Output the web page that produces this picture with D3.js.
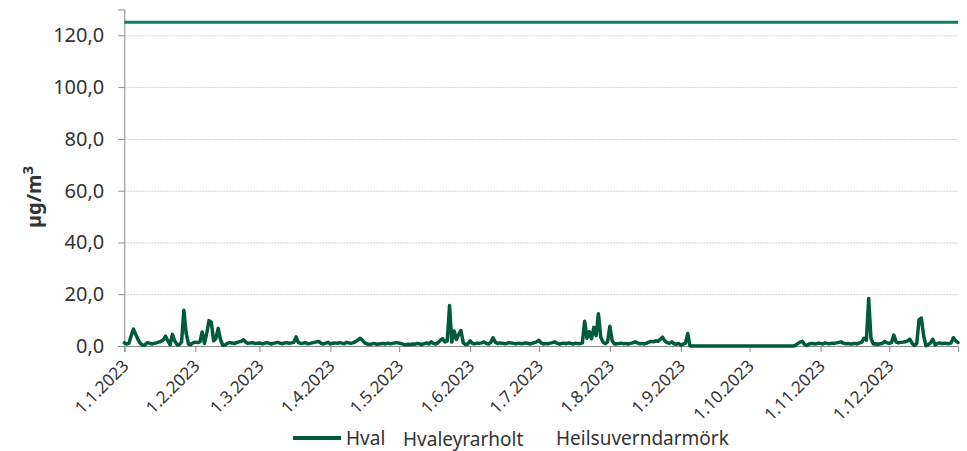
<!DOCTYPE html>
<html>
<head>
<meta charset="utf-8">
<script src="https://cdn.jsdelivr.net/npm/d3@7"></script>
<style>
    body { margin: 0; background: #fff; }
    svg text { font-family: "Noto Sans", "Open Sans", sans-serif; }
</style>
</head>
<body>
<svg id="chart" width="967" height="451"></svg>
<script>
// daily averages, µg/m3, one array per month of 2023
var jan = [1.2, 0.8, 1.0, 4.0, 6.5, 4.5, 2.5, 1.0, 0.3, 0.4, 1.3, 1.1, 0.8, 1.0, 1.2, 1.5, 1.8, 2.3, 3.8, 2.0, 0.5, 4.5, 2.0, 0.5, 0.6, 1.5, 13.8, 5.0, 0.8, 0.6, 1.2];
var feb = [1.5, 1.3, 1.6, 5.4, 1.0, 5.0, 9.8, 9.2, 2.0, 3.0, 6.8, 2.5, 0.3, 0.4, 1.0, 1.3, 1.2, 0.9, 1.3, 1.6, 1.8, 2.4, 1.5, 1.0, 1.2, 1.3, 1.0, 1.1];
var mar = [1.2, 0.9, 1.0, 1.3, 1.1, 0.8, 1.0, 1.2, 1.4, 1.1, 0.9, 1.2, 1.3, 1.0, 1.2, 1.4, 3.5, 1.3, 1.0, 1.1, 1.3, 0.9, 1.0, 1.2, 1.4, 1.6, 1.7, 1.0, 0.8, 1.1, 1.4];
var apr = [0.8, 1.1, 1.2, 1.0, 1.3, 1.1, 0.9, 1.4, 1.2, 1.0, 1.3, 1.7, 2.3, 3.0, 2.2, 1.2, 0.8, 0.7, 0.8, 1.0, 0.7, 0.8, 0.9, 1.0, 0.8, 1.1, 0.9, 1.0, 1.2, 1.3];
var may = [1.1, 0.9, 0.6, 0.5, 0.7, 0.6, 0.8, 0.7, 1.0, 0.8, 0.6, 0.9, 1.2, 0.8, 1.6, 1.0, 0.8, 1.3, 2.2, 2.8, 1.6, 2.0, 15.6, 1.5, 5.8, 2.5, 4.5, 6.0, 1.2, 0.6, 0.8];
var jun = [2.0, 1.0, 0.9, 1.1, 1.0, 1.2, 1.6, 1.0, 0.8, 1.4, 3.2, 1.5, 1.0, 1.2, 1.1, 0.9, 1.0, 1.3, 1.2, 1.0, 0.8, 1.1, 1.0, 0.9, 1.2, 1.1, 0.8, 1.0, 1.3, 1.6];
var jul = [2.2, 1.2, 0.8, 1.0, 0.9, 1.1, 1.3, 1.6, 1.0, 0.8, 1.0, 1.1, 0.9, 1.2, 1.0, 0.8, 1.1, 1.0, 0.9, 1.2, 9.6, 3.0, 5.5, 2.8, 7.2, 4.0, 12.5, 3.5, 1.5, 0.9, 1.5];
var aug = [7.6, 2.0, 0.8, 0.9, 1.0, 1.1, 0.9, 1.0, 0.8, 1.0, 1.2, 1.6, 1.2, 0.9, 1.0, 0.8, 1.1, 1.5, 1.8, 1.6, 2.0, 1.8, 2.6, 3.4, 2.0, 1.3, 1.0, 1.6, 0.9, 0.7, 1.0];
var sep = [0.3, 0.8, 1.0, 4.8, 0, 0, 0, 0, 0, 0, 0, 0, 0, 0, 0, 0, 0, 0, 0, 0, 0, 0, 0, 0, 0, 0, 0, 0, 0, 0];
var oct = [0, 0, 0, 0, 0, 0, 0, 0, 0, 0, 0, 0, 0, 0, 0, 0, 0, 0, 0, 0, 0.2, 0.9, 1.5, 1.8, 0.6, 0.2, 0.8, 1.0, 0.9, 0.8, 1.1];
var nov = [1.0, 0.8, 1.2, 1.0, 0.9, 1.1, 1.0, 1.2, 1.4, 1.6, 1.1, 0.9, 1.0, 0.8, 0.9, 1.0, 0.8, 1.2, 1.5, 3.0, 2.2, 18.3, 3.0, 0.8, 0.9, 0.7, 0.9, 1.0, 1.8, 1.2];
var dec = [1.0, 1.4, 4.2, 1.5, 1.2, 1.4, 1.5, 1.6, 2.0, 2.6, 1.0, 0.2, 1.0, 10.2, 10.8, 4.0, 0.1, 0.5, 1.2, 2.6, 0.4, 1.0, 1.2, 0.9, 1.1, 1.0, 0.9, 1.2, 3.2, 2.0, 1.3];

var seriesNames = ['Hval', 'Hvaleyrarholt', 'Heilsuverndarmörk'];
var limitValue = 125;
var yTicks = [0, 20, 40, 60, 80, 100, 120];
var yMax = 130;
var startDate = new Date(2023, 0, 1);
var endDate = new Date(2023, 11, 31);

var svg = d3.select('#chart'),
    margin = { top: 9.4, right: 9, bottom: 105, left: 124.3 },
    width = 967 - margin.left - margin.right,
    height = 451 - margin.top - margin.bottom,
    lineColor = '#005a3c',
    limitColor = '#127b63',
    textColor = '#333',
    fontFamily = '"Noto Sans", "Open Sans", sans-serif';

var values = [].concat(jan, feb, mar, apr, may, jun, jul, aug, sep, oct, nov, dec);
var data = values.map(function (v, i) {
    return { date: d3.timeDay.offset(startDate, i), value: v };
});

var x = d3.scaleTime().domain([startDate, endDate]).range([0, width]);
var y = d3.scaleLinear().domain([0, yMax]).range([height, 0]);

var locale = d3.formatLocale({ decimal: ',', thousands: '.', grouping: [3], currency: ['', ''] });
var fmt = locale.format('.1f');
var dateFmt = function (d) {
    return d.getDate() + '.' + (d.getMonth() + 1) + '.' + d.getFullYear();
};

var g = svg.append('g').attr('transform', 'translate(' + margin.left + ',' + margin.top + ')');

// dotted grid
g.selectAll('line.grid')
    .data(yTicks.filter(function (d) { return d > 0; }))
    .enter()
    .append('line')
    .attr('class', 'grid')
    .attr('x1', 0)
    .attr('x2', width)
    .attr('y1', function (d) { return y(d) + 0.5; })
    .attr('y2', function (d) { return y(d) + 0.5; })
    .attr('stroke', '#cfcfcf')
    .attr('stroke-width', 1)
    .attr('stroke-dasharray', '2,1');

// y axis
var yAxis = g.append('g')
    .call(d3.axisLeft(y).tickValues(yTicks).tickSize(6).tickPadding(14).tickFormat(fmt));
yAxis.attr('font-family', fontFamily);
yAxis.select('.domain').attr('stroke', '#8a8a8a');
yAxis.selectAll('.tick line').attr('stroke', '#8a8a8a');
yAxis.selectAll('text')
    .attr('fill', textColor)
    .style('font-size', '20px');

// x axis
var xAxis = g.append('g')
    .attr('transform', 'translate(0,' + height + ')')
    .call(d3.axisBottom(x).ticks(d3.timeMonth.every(1)).tickSize(6).tickFormat(dateFmt));
xAxis.attr('font-family', fontFamily);
xAxis.select('.domain').attr('stroke', '#8a8a8a');
xAxis.selectAll('.tick line').attr('stroke', '#8a8a8a');
xAxis.selectAll('text')
    .attr('fill', textColor)
    .attr('x', 0)
    .attr('y', 0)
    .attr('dy', 0)
    .attr('text-anchor', 'end')
    .attr('transform', 'translate(5,21) rotate(-45)')
    .style('font-size', '17px');

// limit line
g.append('line')
    .attr('x1', 0)
    .attr('x2', width)
    .attr('y1', y(limitValue))
    .attr('y2', y(limitValue))
    .attr('stroke', limitColor)
    .attr('stroke-width', 3);

// series
var line = d3.line()
    .x(function (d) { return x(d.date); })
    .y(function (d) { return y(d.value); });

g.append('path')
    .datum(data)
    .attr('d', line)
    .attr('fill', 'none')
    .attr('stroke', lineColor)
    .attr('stroke-width', 3.5)
    .attr('stroke-linejoin', 'round')
    .attr('stroke-linecap', 'round');

// y title, with a raised 3
var title = svg.append('text')
    .attr('transform', 'translate(41,197) rotate(-90)')
    .attr('text-anchor', 'middle')
    .attr('fill', textColor)
    .style('font-size', '20px')
    .style('font-weight', 'bold');
title.append('tspan').text('µg/m');
title.append('tspan')
    .attr('dy', -8)
    .style('font-size', '15px')
    .text('3');

// legend
var legend = svg.append('g');
legend.append('line')
    .attr('x1', 293)
    .attr('x2', 341)
    .attr('y1', 438)
    .attr('y2', 438)
    .attr('stroke', lineColor)
    .attr('stroke-width', 4);

var legendPos = [[346, 445], [403, 446], [556, 445]];
legend.selectAll('text')
    .data(seriesNames)
    .enter()
    .append('text')
    .attr('x', function (d, i) { return legendPos[i][0]; })
    .attr('y', function (d, i) { return legendPos[i][1]; })
    .attr('fill', textColor)
    .style('font-size', '19px')
    .text(function (d) { return d; });
</script>
</body>
</html>
